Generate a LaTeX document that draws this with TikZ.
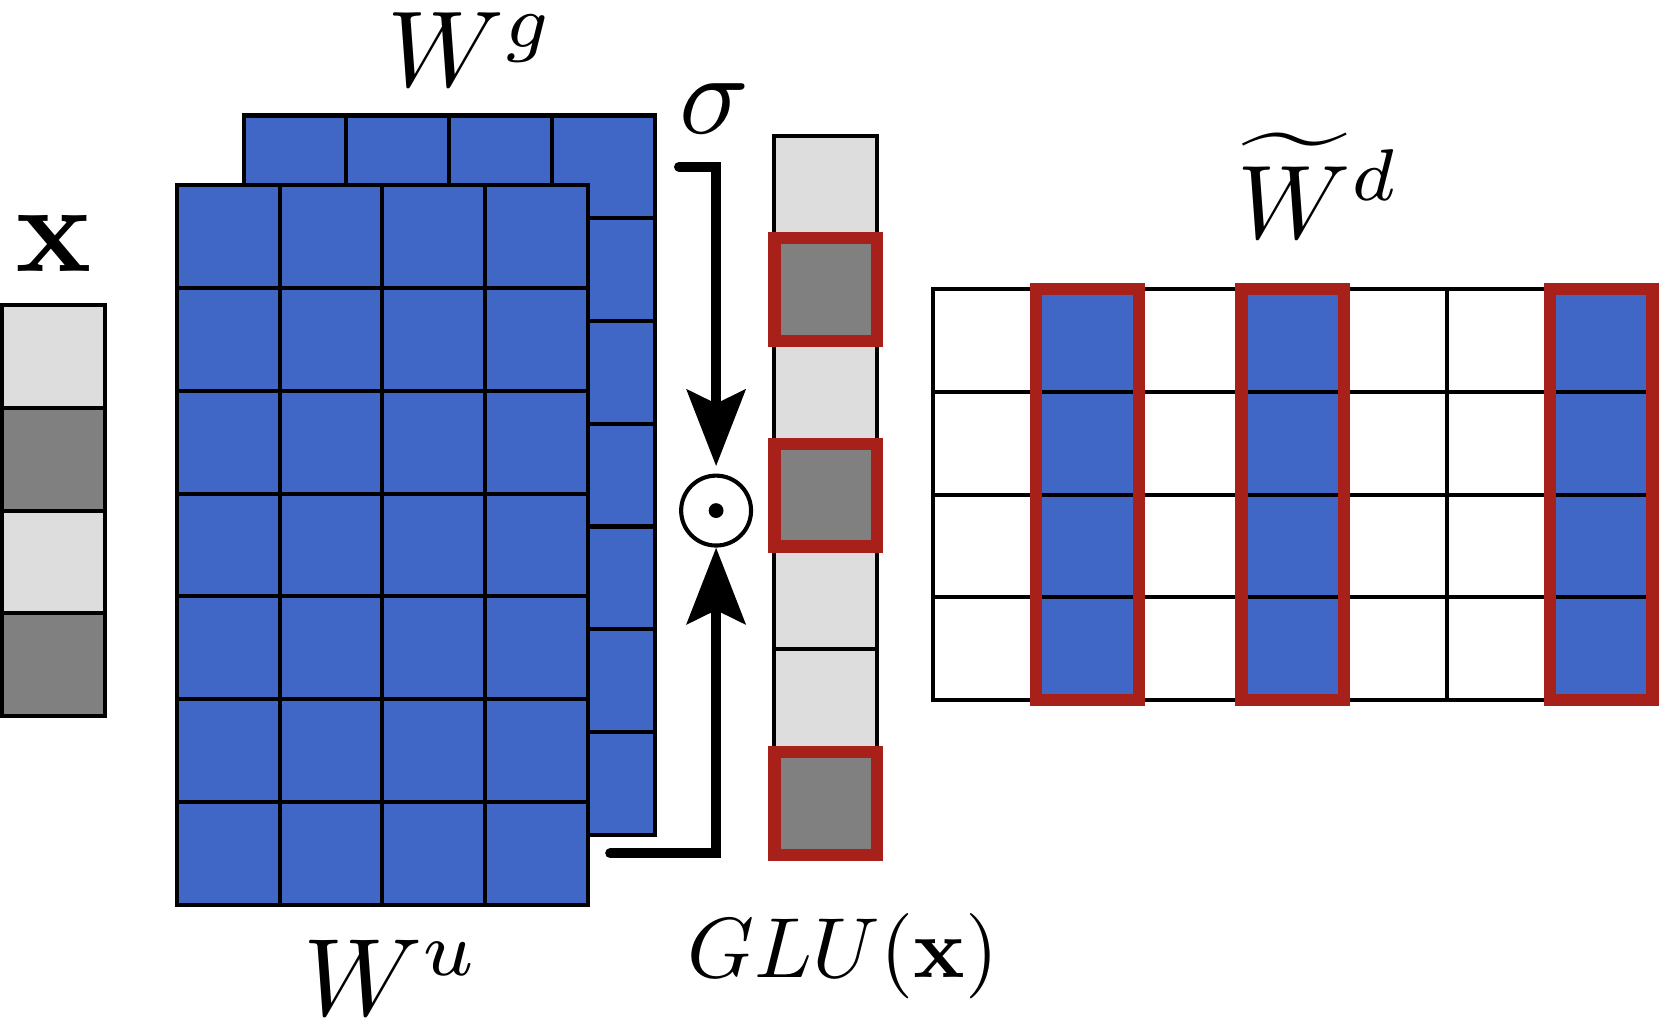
\documentclass[tikz,border=0pt]{standalone}
\usepackage{amsmath}
\usetikzlibrary{positioning,arrows.meta}
\newcommand\unit{0.97}
\definecolor{blueW}{RGB}{64,103,197}
\definecolor{redH}{RGB}{168,32,26}
\definecolor{lightC}{RGB}{221,221,221}
\definecolor{darkC}{RGB}{128,128,128}
\tikzset{cell/.style={rectangle,draw=black,line width=1.1pt,minimum size=\unit cm,inner sep=0pt,outer sep=0pt}}
\tikzset{redbox/.style={draw=redH,line width=3.3pt}}
\tikzset{flow/.style={line width=2.7pt,line cap=round,-{Stealth[length=0.72cm,width=0.55cm,inset=0.13cm]}}}
\tikzset{tag/.style={inner sep=0pt,anchor=base,scale=2.9}}

\begin{document}
\begin{tikzpicture}
    \useasboundingbox (0,0) rectangle (15.68,9.61);
    % input x
    \foreach \i/\s in {0/lightC,1/darkC,2/lightC,3/darkC}\node[cell,fill=\s] (x-\i) at (0.505,6.245-\i*\unit){};
    \node[tag,scale=1.17] (xlab) at (0.51,7.05) {$\mathbf{x}$};

    % W^g behind, W^u in front
    \foreach \r in {0,...,6}{\foreach \c in {0,...,3}\node[cell,fill=blueW] (g-\r-\c) at (2.785+\c*\unit,8.035-\r*\unit){};}
    \foreach \r in {0,...,6}{\foreach \c in {0,...,3}\node[cell,fill=blueW] (u-\r-\c) at (2.155+\c*\unit,7.375-\r*\unit){};}
    \node[tag] (wg) at (4.445,8.79) {$W^g$};
    \node[tag,scale=1.02] (wu) at (3.70,0.02) {$W^u$};

    % gate
    \node[circle,draw=black,line width=1.1pt,minimum size=0.66cm,inner sep=0pt] (odot) at (6.76,4.79) {};
    \fill (odot.center) circle (0.07);
    \coordinate[right=0.23cm of g-0-3] (gout);
    \coordinate[right=0.21cm of u-6-3] (uout);
    \draw[flow,shorten >=2pt] (gout) -| (odot.north);
    \draw[flow] (uout) -| (odot.south);
    \node[tag,scale=1.07] (sigma) at (6.745,8.35) {$\sigma$};

    % GLU(x)
    \foreach \i/\s in {0/lightC,1/darkC,2/lightC,3/darkC,4/lightC,5/lightC,6/darkC}\node[cell,fill=\s] (h-\i) at (7.795,7.845-\i*\unit){};
    \foreach \i in {1,3,6}\draw[redbox] (h-\i.north west) rectangle (h-\i.south east);
    \node[tag,scale=0.79] (glu) at (7.96,0.38) {$GLU(\mathbf{x})$};

    % W^d
    \foreach \r in {0,...,3}{\foreach \c/\s in {0/white,1/blueW,2/white,3/blueW,4/white,5/white,6/blueW}\node[cell,fill=\s] (d-\r-\c) at (9.295+\c*\unit,6.395-\r*\unit){};}
    \foreach \c in {1,3,6}\draw[redbox] (d-0-\c.north west) rectangle (d-3-\c.south east);
    \node[tag,scale=0.97] (wd) at (12.45,7.36) {$\widetilde{W}^d$};
\end{tikzpicture}
\end{document}
